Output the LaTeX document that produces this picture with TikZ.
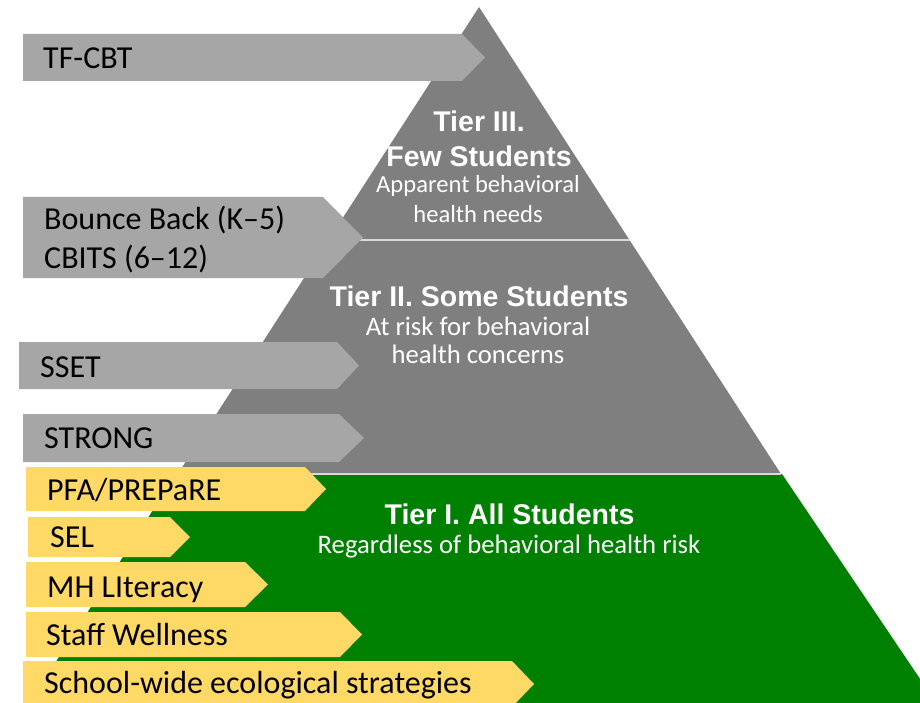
\documentclass[tikz,border=0pt]{standalone}
\usepackage{fontspec}
\setmainfont{Carlito}
\newfontfamily\headfont{Liberation Sans}
\definecolor{pgray}{HTML}{7F7F7F}
\definecolor{agray}{HTML}{A6A6A6}
\definecolor{pgreen}{HTML}{008000}
\definecolor{ayellow}{HTML}{FFD966}
\definecolor{sepcol}{HTML}{D9D9D9}
\newcommand\tierarrow[6]{\fill[#1] (#2,#3) -- (#5,#3) -- (#6,{(#3+#4)/2}) -- (#5,#4) -- (#2,#4) -- cycle;}
\begin{document}
\begin{tikzpicture}[x=1pt,y=-1pt,
  lbl/.style={inner sep=0pt, anchor=base west, font=\fontsize{32}{32}\selectfont, text=black},
  hd/.style={inner sep=0pt, anchor=base, font=\headfont\bfseries\fontsize{28.5}{28.5}\selectfont, text=white},
  sub/.style={inner sep=0pt, anchor=base, font=\fontsize{26.7}{26.7}\selectfont, text=white},
  sep/.style={draw=sepcol, line width=2pt}]
\useasboundingbox (0,0) rectangle (920,703);
\begin{scope}
\clip (0,0) rectangle (920,703);
% pyramid
\fill[pgray] (479,7) -- (629.5,240) -- (328.5,240) -- cycle;
\fill[pgray] (328.5,240) -- (629.5,240) -- (781,474) -- (177.8,474) -- cycle;
\fill[pgreen] (176,474) -- (782,474) -- (941,710) -- (25,710) -- cycle;
\draw[sep] (328.5,240) -- (629.5,240);
\draw[sep] (177.8,474) -- (781,474);
% gray arrows
\tierarrow{agray}{23}{34}{81}{462}{485}
\tierarrow{agray}{23}{197}{278}{323}{363}
\tierarrow{agray}{19}{342}{389}{337}{359}
\tierarrow{agray}{23}{414}{462}{339}{364}
% yellow arrows
\tierarrow{ayellow}{26}{467}{511}{305}{326}
\tierarrow{ayellow}{28}{517}{557}{170}{190}
\tierarrow{ayellow}{26}{562}{607}{245}{268}
\tierarrow{ayellow}{26}{612}{657}{340}{362}
\tierarrow{ayellow}{23}{661}{707}{512}{534}
\end{scope}
% arrow labels
\node[lbl] (tfcbt) at (43,69) {TF-CBT};
\node[lbl] (bounce) at (44,230) {Bounce Back (K–5)};
\node[lbl] (cbits) at (44,269) {CBITS (6–12)};
\node[lbl] (sset) at (40,377) {SSET};
\node[lbl] (strong) at (44,448) {STRONG};
\node[lbl] (pfa) at (47,500) {PFA/PREPaRE};
\node[lbl] (sel) at (50,547) {SEL};
\node[lbl] (mh) at (47,597) {MH LIteracy};
\node[lbl] (staff) at (46,645) {Staff Wellness};
\node[lbl] (school) at (44,693) {School-wide ecological strategies};
% tier texts
\node[hd] (t3a) at (479,131.7) {Tier III.};
\node[hd] (t3b) at (479,166.7) {Few Students};
\node[sub, font=\fontsize{24.6}{24.6}\selectfont] (t3c) at (478,193) {Apparent behavioral};
\node[sub, font=\fontsize{24.6}{24.6}\selectfont] (t3d) at (478,223) {health needs};
\node[hd] (t2a) at (479,306) {Tier II. Some Students};
\node[sub] (t2b) at (478,335) {At risk for behavioral};
\node[sub] (t2c) at (478,363) {health concerns};
\node[hd] (t1a) at (509.5,524) {Tier I. All Students};
\node[sub] (t1b) at (509,553) {Regardless of behavioral health risk};
\end{tikzpicture}
\end{document}
